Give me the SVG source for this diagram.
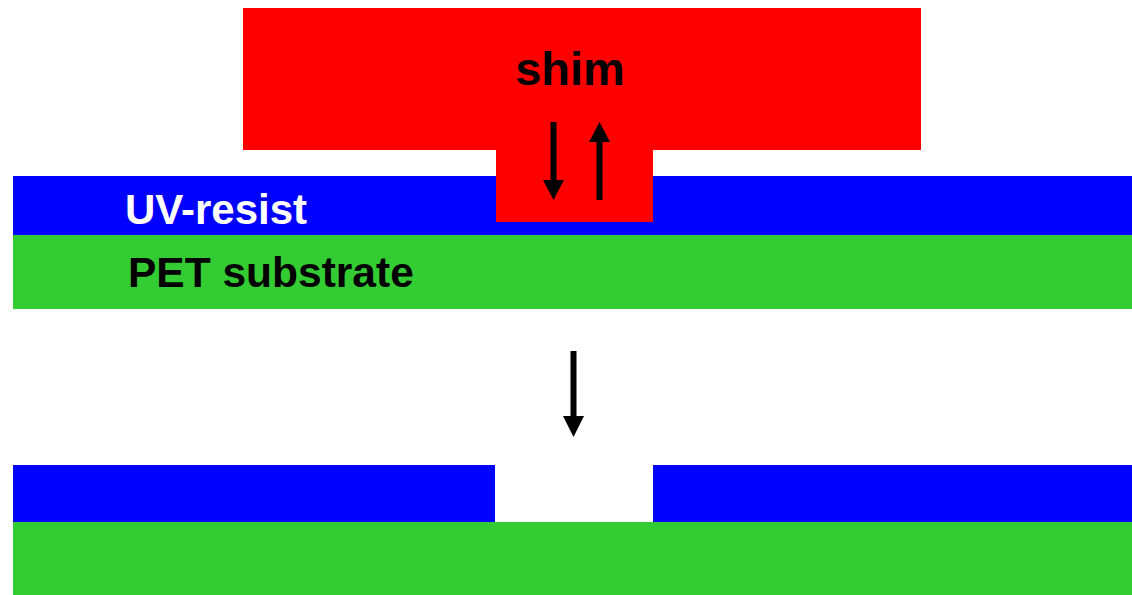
<svg xmlns="http://www.w3.org/2000/svg" width="1132" height="595" viewBox="0 0 1132 595">
  <defs>
    <style>
      .shim { fill: #ff0000; }
      .resist { fill: #0000ff; }
      .pet { fill: #33cc33; }
      .lbl { font-family: "Liberation Sans", Arial, sans-serif; font-weight: bold; }
      .shaft { stroke: #000; stroke-width: 6; fill: none; }
      .tip { fill: #000; }
    </style>
  </defs>
  <rect width="1132" height="595" fill="#fff"/>

  <!-- top stack: resist on PET -->
  <g id="pet-top">
    <rect class="pet" x="13" y="235" width="1119" height="74"/>
    <text class="lbl" x="128" y="287" font-size="42.5" fill="#000">PET substrate</text>
  </g>
  <g id="resist-top">
    <rect class="resist" x="13" y="176" width="1119" height="59"/>
    <text class="lbl" x="125" y="224" font-size="42" fill="#fff">UV-resist</text>
  </g>

  <!-- stamp pressed into the resist -->
  <g id="shim">
    <path class="shim" d="M243,8 H921 V150 H653 V222 H496 V150 H243 Z"/>
    <text class="lbl" x="570" y="85" font-size="47" fill="#000" text-anchor="middle">shim</text>
  </g>

  <!-- bottom stack after demoulding -->
  <g id="pet-bottom">
    <rect class="pet" x="13" y="522" width="1119" height="73"/>
  </g>
  <g id="resist-bottom">
    <rect class="resist" x="13" y="465" width="482" height="57"/>
    <rect class="resist" x="653" y="465" width="479" height="57"/>
  </g>

  <g id="connectors">
    <!-- press / release -->
    <path class="shaft" d="M553.5,122 V184"/>
    <path class="tip" d="M543,180 L564,180 L553.5,200 Z"/>
    <path class="shaft" d="M599.5,200 V138"/>
    <path class="tip" d="M589,142 L610,142 L599.5,122 Z"/>
    <!-- process step -->
    <path class="shaft" d="M573.5,351 V420"/>
    <path class="tip" d="M563,416 L584,416 L573.5,437 Z"/>
  </g>
</svg>
